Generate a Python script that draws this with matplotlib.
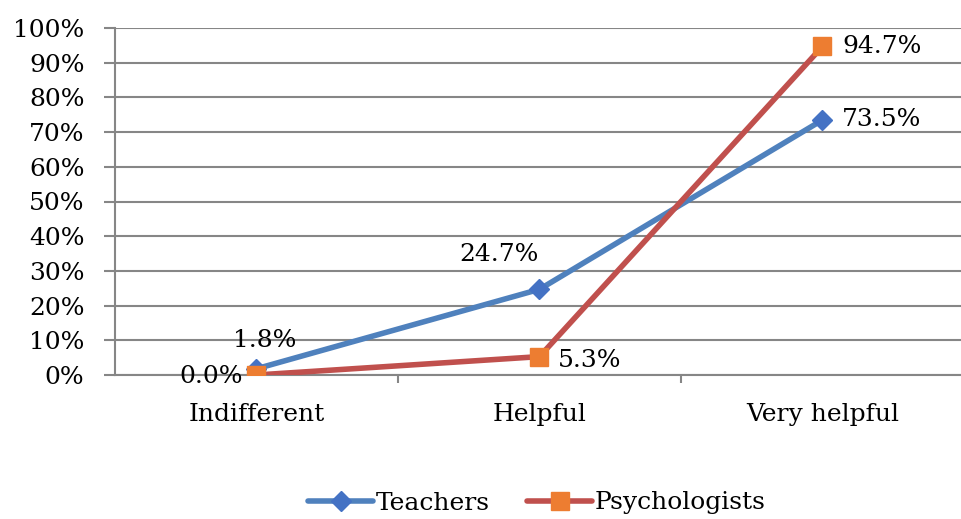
import matplotlib.pyplot as plt
from matplotlib.ticker import FuncFormatter

plt.rcParams['font.family'] = ['DejaVu Serif']

categories = ['Indifferent', 'Helpful', 'Very helpful']
teachers = [1.8, 24.7, 73.5]
psychologists = [0.0, 5.3, 94.7]
y_ticks = [0, 10, 20, 30, 40, 50, 60, 70, 80, 90, 100]

fig = plt.figure(figsize=(9.62, 5.19), dpi=100)
ax = fig.add_axes([115 / 962, 1 - 375 / 519, 849 / 962, 347 / 519])

x = range(len(categories))
ax.plot(x, teachers, color='#4F81BD', linewidth=4, marker='D',
        markersize=10, markerfacecolor='#4472C4', markeredgecolor='#4472C4',
        label='Teachers', zorder=3, solid_capstyle='round')
ax.plot(x, psychologists, color='#C0504D', linewidth=4, marker='s',
        markersize=13, markerfacecolor='#ED7D31', markeredgecolor='#ED7D31',
        label='Psychologists', zorder=4, solid_capstyle='round')

fs = 18
# value labels
ax.annotate(f'{teachers[0]:.1f}%', (0, teachers[0]), xytext=(6, 12),
            textcoords='offset points', ha='center', va='bottom', fontsize=fs)
ax.annotate(f'{teachers[1]:.1f}%', (1, teachers[1]), xytext=(-29, 17),
            textcoords='offset points', ha='center', va='bottom', fontsize=fs)
ax.annotate(f'{teachers[2]:.1f}%', (2, teachers[2]), xytext=(14, 0),
            textcoords='offset points', ha='left', va='center', fontsize=fs)
ax.annotate(f'{psychologists[0]:.1f}%', (0, psychologists[0]), xytext=(-10, -1),
            textcoords='offset points', ha='right', va='center', fontsize=fs)
ax.annotate(f'{psychologists[1]:.1f}%', (1, psychologists[1]), xytext=(13, -3),
            textcoords='offset points', ha='left', va='center', fontsize=fs)
ax.annotate(f'{psychologists[2]:.1f}%', (2, psychologists[2]), xytext=(14, 0),
            textcoords='offset points', ha='left', va='center', fontsize=fs)

ax.set_xlim(-0.5, 2.5)
ax.set_ylim(0, 100)
ax.set_yticks(y_ticks)
ax.yaxis.set_major_formatter(FuncFormatter(lambda v, p: f'{v:.0f}%'))
ax.grid(axis='y', color='#868686', linewidth=1.5, zorder=0)
ax.set_axisbelow(True)

ax.set_xticks(x)
ax.set_xticklabels(categories, fontsize=fs)
ax.set_xticks([0.5, 1.5], minor=True)
ax.tick_params(axis='x', which='major', length=0, pad=20)
ax.tick_params(axis='x', which='minor', length=6, width=1.5, color='#868686')
ax.tick_params(axis='y', length=8, width=1.5, color='#868686', labelsize=fs, pad=14)

for s in ['top', 'right']:
    ax.spines[s].set_visible(False)
for s in ['left', 'bottom']:
    ax.spines[s].set_color('#868686')
    ax.spines[s].set_linewidth(1.5)

fig.legend(loc='center', bbox_to_anchor=(537 / 962, 1 - 503 / 519), ncol=2,
           frameon=False, fontsize=fs, handlelength=2.6, columnspacing=1.5,
           handletextpad=0.1)

fig.savefig('out.png', dpi=100)
